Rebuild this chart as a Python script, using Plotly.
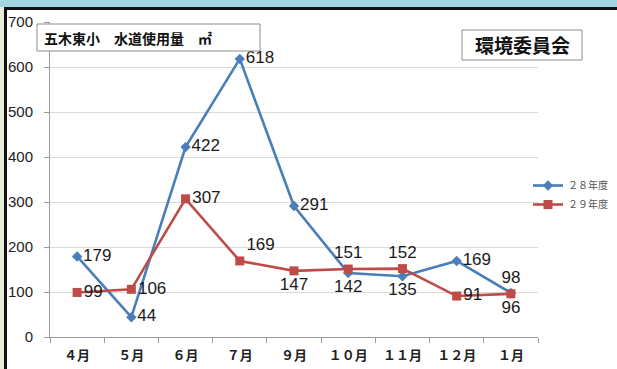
import plotly.graph_objects as go

months = ["４月", "５月", "６月", "７月", "９月", "１０月", "１１月", "１２月", "１月"]
fy28 = [179, 44, 422, 618, 291, 142, 135, 169, 98]
fy29 = [99, 106, 307, 169, 147, 151, 152, 91, 96]
pos28 = ["middle right", "middle right", "middle right", "middle right", "middle right",
         "bottom center", "bottom center", "middle right", "top center"]
pos29 = ["middle right", "middle right", "middle right", "top right", "bottom center",
         "top center", "top center", "middle right", "bottom center"]
yticks = [0, 100, 200, 300, 400, 500, 600, 700]

W, H = 617, 369
L, R, T, B = 50, 79, 22, 32
PW, PH = W - L - R, H - T - B

def px(x):
    return (x - L) / PW

def py(y):
    return (H - B - y) / PH

BLUE = "#4A7EBB"
RED = "#BE4B48"
LBL = dict(family="Liberation Sans, Arial", size=17, color="#1a1a1a")

fig = go.Figure()
fig.add_trace(go.Scatter(
    x=months, y=fy28, name="２８年度", mode="lines+markers+text",
    line=dict(color=BLUE, width=2.6),
    marker=dict(symbol="diamond", size=8, color=BLUE),
    text=[str(v) for v in fy28], textposition=pos28, textfont=LBL,
    cliponaxis=False))
fig.add_trace(go.Scatter(
    x=months, y=fy29, name="２９年度", mode="lines+markers+text",
    line=dict(color=RED, width=2.6),
    marker=dict(symbol="square", size=9, color=RED),
    text=[str(v) for v in fy29], textposition=pos29, textfont=LBL,
    cliponaxis=False))

shapes = [
    dict(type="rect", xref="paper", yref="paper", x0=px(-2), x1=px(W + 2), y0=py(7), y1=py(-2),
         fillcolor="#A6D3E2", line=dict(width=0), layer="above"),
    dict(type="rect", xref="paper", yref="paper", x0=px(-2), x1=px(W + 2), y0=py(10), y1=py(7),
         fillcolor="#111111", line=dict(width=0), layer="above"),
    dict(type="rect", xref="paper", yref="paper", x0=px(-2), x1=px(4), y0=py(H + 2), y1=py(7),
         fillcolor="#E6EDD9", line=dict(width=0), layer="above"),
    dict(type="rect", xref="paper", yref="paper", x0=px(4), x1=px(7), y0=py(H + 2), y1=py(7),
         fillcolor="#111111", line=dict(width=0), layer="above"),
    dict(type="rect", xref="paper", yref="paper", x0=px(37), x1=px(260), y0=py(51), y1=py(24),
         fillcolor="white", line=dict(color="#8c8c8c", width=1), layer="above"),
    dict(type="rect", xref="paper", yref="paper", x0=px(462), x1=px(582), y0=py(60), y1=py(30),
         fillcolor="white", line=dict(color="#8c8c8c", width=1), layer="above"),
]

annotations = [
    dict(text="<b>五木東小　水道使用量　㎡</b>", xref="paper", yref="paper", x=px(42), y=py(38),
         xanchor="left", yanchor="middle", showarrow=False,
         font=dict(family="Noto Sans CJK JP", size=14, color="#111111")),
    dict(text="<b>環境委員会</b>", xref="paper", yref="paper", x=px(522), y=py(45),
         xanchor="center", yanchor="middle", showarrow=False,
         font=dict(family="Noto Sans CJK JP", size=19, color="#111111")),
]

fig.update_layout(
    width=W, height=H, margin=dict(l=L, r=R, t=T, b=B, autoexpand=False),
    paper_bgcolor="white", plot_bgcolor="white",
    showlegend=True,
    legend=dict(x=px(528), y=py(171), xanchor="left", yanchor="top",
                font=dict(family="Noto Sans CJK JP", size=10, color="#555555"),
                bgcolor="rgba(0,0,0,0)", itemwidth=30, tracegroupgap=0),
    shapes=shapes, annotations=annotations,
    hovermode=False,
)
fig.update_xaxes(
    type="category", range=[-0.5, len(months) - 0.5],
    showgrid=False, showline=True, linecolor="#9a9a9a", linewidth=1,
    ticks="outside", tickson="boundaries", ticklen=5, tickcolor="#9a9a9a",
    tickfont=dict(family="Noto Sans CJK JP", size=13, color="#222222", weight="bold"),
    ticklabelstandoff=6,
)
fig.update_yaxes(
    range=[0, 700], tickvals=yticks, ticktext=[str(v) for v in yticks],
    showgrid=True, gridcolor="#D9D9D9", gridwidth=1,
    showline=True, linecolor="#9a9a9a", linewidth=1,
    ticks="outside", ticklen=5, tickcolor="#9a9a9a",
    tickfont=dict(family="Liberation Sans, Arial", size=15, color="#222222"),
    zeroline=False, ticklabelstandoff=8,
)

fig.write_html("out.html")
